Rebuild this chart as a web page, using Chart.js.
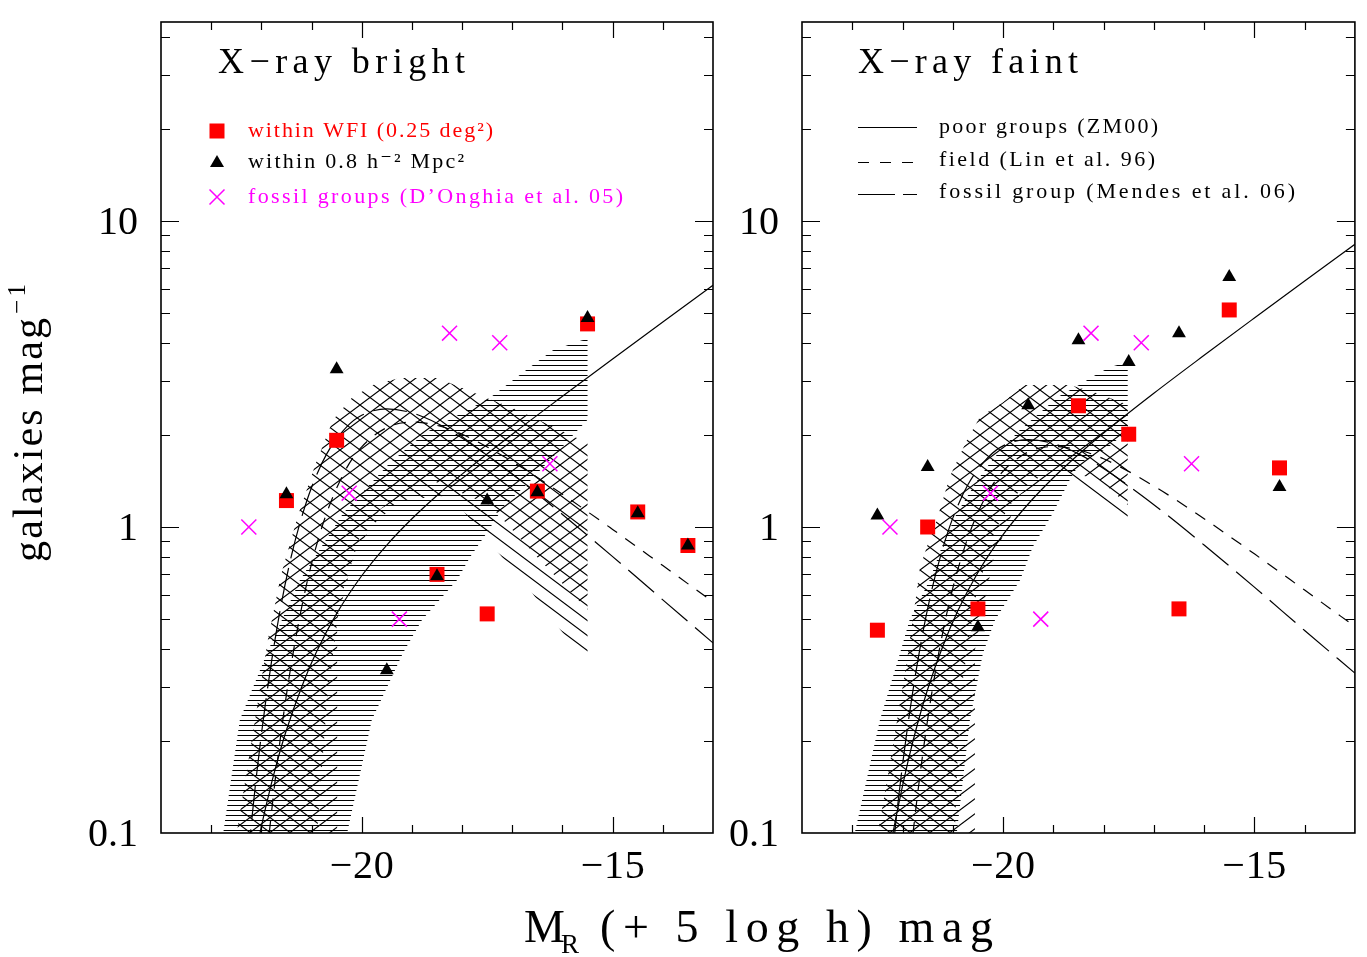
<!DOCTYPE html>
<html><head><meta charset="utf-8">
<script src="https://cdn.jsdelivr.net/npm/chart.js@4.4.1/dist/chart.umd.min.js"></script>
<style>
html,body{margin:0;padding:0;background:#fff;}
#wrap{position:relative;width:1367px;height:957px;background:#fff;}
canvas{position:absolute;left:0;top:0;}
</style></head><body>
<div id="wrap"><canvas id="c1" width="1367" height="957"></canvas><canvas id="c2" width="1367" height="957"></canvas></div>
<script>
// ---------------- axis ranges & ticks ----------------
const X_MIN = -24, X_MAX = -13;
const Y_MIN = 0.1, Y_MAX = 44.7;
const xTickValues = [-20, -15];
const xTickLabels = ['\u221220', '\u221215'];
const yTickValues = [0.1, 1, 10];
const yTickLabels = ['0.1', '1', '10'];

// ---------------- data: X-ray bright ----------------
const brightWfiM  = [-21.5, -20.5, -18.5, -17.5, -16.5, -15.5, -14.5, -13.5];
const brightWfiN  = [1.22, 1.92, 0.70, 0.52, 1.31, 4.61, 1.12, 0.87];
const brightCoreM = [-21.5, -20.5, -19.5, -18.5, -17.5, -16.5, -15.5, -14.5, -13.5];
const brightCoreN = [1.28, 3.28, 0.34, 0.69, 1.22, 1.30, 4.82, 1.11, 0.87];

// ---------------- data: X-ray faint ----------------
const faintWfiM  = [-22.5, -21.5, -20.5, -18.5, -17.5, -16.5, -15.5, -14.5];
const faintWfiN  = [0.46, 1.00, 0.54, 2.49, 2.01, 0.54, 5.12, 1.56];
const faintCoreM = [-22.5, -21.5, -20.5, -19.5, -18.5, -17.5, -16.5, -15.5, -14.5];
const faintCoreN = [1.09, 1.57, 0.47, 2.50, 4.08, 3.46, 4.30, 6.56, 1.35];

// ---------------- fossil groups (D'Onghia et al. 05) ----------------
const fossilM = [-22.25, -20.25, -19.25, -18.25, -17.25, -16.25];
const fossilN = [1.00, 1.29, 0.50, 4.30, 4.00, 1.61];

// ---------------- reference luminosity functions ----------------
const poorM = [-23, -22.5, -22.3, -22.1, -21.9, -21.7, -21.5, -21.2, -20.9, -20.5, -20, -19.5, -19, -18.5, -18, -17, -16, -15, -14, -13];
const brightPoorN = [0.0073, 0.0362, 0.0585, 0.0877, 0.124, 0.1675, 0.217, 0.299, 0.391, 0.521, 0.693, 0.873, 1.064, 1.268, 1.489, 2.009, 2.673, 3.540, 4.677, 6.166];
const faintPoorN  = [0.0099, 0.0493, 0.0796, 0.119, 0.169, 0.228, 0.295, 0.407, 0.532, 0.710, 0.944, 1.189, 1.449, 1.726, 2.028, 2.735, 3.639, 4.819, 6.368, 8.395];
const refM = [-22.5, -22.2, -22, -21.8, -21.6, -21.4, -21.2, -21, -20.7, -20.3, -20, -19.5, -19, -18.5, -18, -17, -16, -15, -14, -13];
const brightFieldN = [0.0037, 0.0217, 0.0546, 0.116, 0.217, 0.360, 0.543, 0.759, 1.109, 1.560, 1.828, 2.113, 2.203, 2.148, 2.009, 1.637, 1.279, 0.982, 0.748, 0.569];
const faintFieldN  = [0.0031, 0.0180, 0.0454, 0.0968, 0.180, 0.299, 0.452, 0.631, 0.923, 1.297, 1.521, 1.758, 1.832, 1.786, 1.671, 1.361, 1.064, 0.817, 0.622, 0.473];
const brightFossilFitN = [0.0296, 0.107, 0.210, 0.361, 0.564, 0.807, 1.072, 1.346, 1.730, 2.123, 2.317, 2.432, 2.360, 2.183, 1.954, 1.489, 1.099, 0.800, 0.578, 0.418];
const faintFossilFitN  = [0.0235, 0.0851, 0.167, 0.287, 0.448, 0.641, 0.851, 1.069, 1.374, 1.687, 1.841, 1.932, 1.875, 1.734, 1.552, 1.183, 0.873, 0.636, 0.459, 0.333];

// ---------------- hatched confidence regions (edges) ----------------
// X-ray bright: horizontal-hatched band
const brightHorizUpM = [-23.2, -22.76, -22.43, -21.89, -21.23, -20.37, -19.44, -18.74, -17.45, -16.65, -16.19, -15.61, -15.5];
const brightHorizUpN = [0.032, 0.100, 0.234, 0.387, 0.671, 1.11, 1.62, 2.03, 2.64, 3.33, 3.78, 4.08, 4.10];
const brightHorizLoM = [-15.5, -15.75, -16.11, -16.45, -16.69, -17.15, -17.51, -17.84, -18.10, -18.80, -19.18, -19.80, -20.29, -20.96];
const brightHorizLoN = [2.24, 2.03, 1.75, 1.53, 1.39, 1.18, 0.955, 0.798, 0.671, 0.497, 0.387, 0.234, 0.100, 0.032];
// X-ray bright: diagonal-hatched bands
const brightDiagUpM = [-22.98, -22.49, -21.87, -21.61, -21.27, -20.93, -20.57, -20.20, -19.78, -19.24, -18.50, -17.98, -17.51, -16.99, -16.25, -15.5];
const brightDiagUpN = [0.032, 0.100, 0.428, 0.697, 1.09, 1.59, 2.24, 2.64, 2.91, 3.07, 3.07, 2.84, 2.64, 2.45, 2.15, 1.88];
const brightBackLoM = [-15.5, -16.15, -16.65, -17.29, -18.24, -19.24, -20.04, -20.43, -20.69, -20.89, -21.12];
const brightBackLoN = [0.360, 0.485, 0.622, 0.828, 1.27, 1.22, 0.927, 0.577, 0.272, 0.100, 0.032];
const brightFwdLoM = [-15.5, -16.45, -17.45, -18.64, -19.64, -20.18, -20.49, -20.49];
const brightFwdLoN = [0.536, 0.780, 1.18, 1.43, 1.14, 0.780, 0.497, 0.032];

// X-ray faint: horizontal-hatched band
const faintHorizUpM = [-23.63, -22.95, -22.45, -22.05, -21.86, -21.46, -21.22, -20.92, -20.50, -20.26, -20.00, -19.67, -19.27, -18.91, -18.41, -18.23, -17.88, -17.52];
const faintHorizUpN = [0.032, 0.100, 0.234, 0.387, 0.497, 0.671, 0.861, 1.11, 1.43, 1.62, 1.82, 2.07, 2.36, 2.66, 2.96, 3.09, 3.33, 3.46];
const faintHorizLoM = [-17.52, -17.91, -18.47, -18.67, -19.01, -19.41, -19.66, -20.16, -20.40, -20.66, -20.92, -21.27];
const faintHorizLoN = [2.07, 1.82, 1.62, 1.43, 1.11, 0.861, 0.671, 0.497, 0.387, 0.234, 0.100, 0.032];
// X-ray faint: diagonal-hatched bands
const faintDiagUpM = [-23.02, -22.49, -22.25, -21.91, -21.65, -21.49, -21.32, -21.06, -20.72, -20.46, -20.02, -19.57, -19.13, -18.67, -18.14, -17.52];
const faintDiagUpN = [0.032, 0.100, 0.169, 0.367, 0.740, 0.887, 1.05, 1.46, 1.92, 2.29, 2.54, 2.91, 2.91, 2.91, 2.74, 2.51];
const faintBackLoM = [-17.52, -18.47, -19.07, -19.67, -20.16, -20.56, -20.86, -20.96, -21.05];
const faintBackLoN = [0.993, 1.35, 1.53, 1.32, 0.977, 0.577, 0.272, 0.100, 0.032];
const faintFwdLoM = [-17.52, -18.08, -18.87, -19.67, -20.20, -20.56, -20.56];
const faintFwdLoN = [1.18, 1.43, 1.53, 1.27, 0.780, 0.396, 0.032];

// ---------------- helpers ----------------
const FONT = '"Liberation Serif", "DejaVu Serif", serif';
function pts(ms, ns) { return ms.map((m, i) => ({x: m, y: ns[i]})); }
function poly(uM, uN, lM, lN) { return pts(uM.concat(lM), uN.concat(lN)); }

function makePattern(kind) {
  const c = document.createElement('canvas');
  if (kind === 'h') { c.width = 10; c.height = 5; } else { c.width = 20; c.height = 15; }
  const g = c.getContext('2d');
  g.strokeStyle = '#000';
  g.lineWidth = kind === 'h' ? 1 : 1.15;
  g.beginPath();
  if (kind === 'h') { g.moveTo(0, 0.5); g.lineTo(10, 0.5); }
  else {
    for (let k = -3; k <= 3; k++) {
      const off = 15 * k;
      if (kind === 'b') { g.moveTo(-20, -15 + off); g.lineTo(40, 30 + off); }
      else { g.moveTo(-20, 30 + off); g.lineTo(40, -15 + off); }
    }
  }
  g.stroke();
  return g.createPattern(c, 'repeat');
}
const patH = makePattern('h'), patB = makePattern('b'), patF = makePattern('f');

function bandDS(data, pat, order) {
  return {data, fill: 'shape', backgroundColor: pat, borderColor: 'rgba(0,0,0,0)', borderWidth: 0,
          pointRadius: 0, tension: 0, order};
}
function curveDS(data, dash, order) {
  return {data, fill: false, borderColor: '#000', borderWidth: 1.2, borderDash: dash, pointRadius: 0,
          cubicInterpolationMode: 'monotone', order};
}
function markDS(data, style, color, radius, order, isCross) {
  return {data, showLine: false, pointStyle: style, pointRadius: radius,
          pointBackgroundColor: isCross ? 'rgba(0,0,0,0)' : color,
          pointBorderColor: color, pointBorderWidth: isCross ? 1.5 : 0, order};
}

function spacedText(ctx, str, x, y, width, align) {
  ctx.save();
  ctx.letterSpacing = '0px';
  const chars = [...str];
  const natural = ctx.measureText(str).width;
  const ls = (width != null && chars.length > 1) ? (width - natural) / (chars.length - 1) : 0;
  const total = natural + ls * (chars.length - 1);
  let sx = x;
  if (align === 'center') sx = x - total / 2;
  else if (align === 'right') sx = x - total;
  ctx.textAlign = 'left';
  if ('letterSpacing' in ctx) { ctx.letterSpacing = ls + 'px'; ctx.fillText(str, sx, y); }
  else { let cx = sx; for (const ch of chars) { ctx.fillText(ch, cx, y); cx += ctx.measureText(ch).width + ls; } }
  ctx.restore();
}

// ---------------- per-panel decoration config ----------------
const panelCfg = {
  c1: {
    title: 'X\u2212ray bright', titleX: 218, titleW: 247, yLabelRight: 138,
    legend: [
      {kind: 'square', color: '#ff0000', text: 'within WFI (0.25 deg\u00b2)', y: 131, base: 137, w: 245},
      {kind: 'tri', color: '#000000', text: 'within 0.8 h\u207b\u00b2 Mpc\u00b2', y: 163, base: 168, w: 216},
      {kind: 'cross', color: '#ff00ff', text: 'fossil groups (D\u2019Onghia et al. 05)', y: 197, base: 203, w: 375}
    ],
    globals: true
  },
  c2: {
    title: 'X\u2212ray faint', titleX: 858, titleW: 220, yLabelRight: 779,
    legend: [
      {kind: 'line', dash: [], text: 'poor groups (ZM00)', y: 127, base: 133, w: 219},
      {kind: 'line', dash: [11, 11], text: 'field (Lin et al. 96)', y: 162, base: 166, w: 216},
      {kind: 'line', dash: [37, 8], text: 'fossil group (Mendes et al. 06)', y: 194, base: 198, w: 356}
    ],
    globals: false
  }
};

const deco = {
  id: 'deco',
  afterDatasetsDraw(chart) {
    const cfg = panelCfg[chart.canvas.id];
    const {ctx, chartArea: a} = chart;
    const xs = chart.scales.x, ys = chart.scales.y;
    ctx.save();
    // frame
    ctx.strokeStyle = '#000';
    ctx.lineWidth = 1.6;
    ctx.strokeRect(a.left, a.top, a.right - a.left, a.bottom - a.top);
    // inward ticks
    ctx.lineWidth = 1.2;
    ctx.beginPath();
    for (let m = Math.ceil(X_MIN) + 1; m < X_MAX; m++) {
      const px = Math.round(xs.getPixelForValue(m)) + 0.5;
      const L = (m % 5 === 0) ? 16 : 8;
      ctx.moveTo(px, a.bottom); ctx.lineTo(px, a.bottom - L);
      ctx.moveTo(px, a.top); ctx.lineTo(px, a.top + L);
    }
    for (let e = -1; e <= 1; e++) {
      for (let k = 1; k <= 9; k++) {
        const v = k * Math.pow(10, e);
        if (v <= Y_MIN * 1.0001 || v >= Y_MAX) continue;
        const py = Math.round(ys.getPixelForValue(v)) + 0.5;
        const L = k === 1 ? 18 : 9;
        ctx.moveTo(a.left, py); ctx.lineTo(a.left + L, py);
        ctx.moveTo(a.right, py); ctx.lineTo(a.right - L, py);
      }
    }
    ctx.stroke();
    // tick labels
    ctx.fillStyle = '#000';
    ctx.font = '40px ' + FONT;
    yTickValues.forEach((v, i) => {
      spacedText(ctx, yTickLabels[i], cfg.yLabelRight, ys.getPixelForValue(v) + 13, null, 'right');
    });
    xTickValues.forEach((v, i) => {
      spacedText(ctx, xTickLabels[i], xs.getPixelForValue(v), 878, 64, 'center');
    });
    // panel title
    ctx.font = '36px ' + FONT;
    spacedText(ctx, cfg.title, cfg.titleX, 73, cfg.titleW, 'left');
    // legend
    cfg.legend.forEach(r => {
      if (r.kind === 'square') {
        ctx.fillStyle = r.color; ctx.fillRect(217 - 7.5, r.y - 7.5, 15, 15);
      } else if (r.kind === 'tri') {
        ctx.fillStyle = r.color; ctx.beginPath();
        ctx.moveTo(217, r.y - 8); ctx.lineTo(224, r.y + 4); ctx.lineTo(210, r.y + 4); ctx.closePath(); ctx.fill();
      } else if (r.kind === 'cross') {
        ctx.strokeStyle = r.color; ctx.lineWidth = 1.5; ctx.beginPath();
        ctx.moveTo(209.5, r.y - 7.5); ctx.lineTo(224.5, r.y + 7.5);
        ctx.moveTo(224.5, r.y - 7.5); ctx.lineTo(209.5, r.y + 7.5); ctx.stroke();
      } else if (r.kind === 'line') {
        ctx.strokeStyle = '#000'; ctx.lineWidth = 1.2; ctx.setLineDash(r.dash); ctx.beginPath();
        ctx.moveTo(858, r.y + 0.5); ctx.lineTo(917, r.y + 0.5); ctx.stroke(); ctx.setLineDash([]);
      }
      ctx.fillStyle = r.color || '#000';
      ctx.font = '22px ' + FONT;
      spacedText(ctx, r.text, r.kind === 'line' ? 939 : 248, r.base, r.w, 'left');
    });
    // shared axis titles
    if (cfg.globals) {
      ctx.fillStyle = '#000';
      ctx.font = '46px ' + FONT;
      spacedText(ctx, 'M', 524, 942, null, 'left');
      ctx.font = '27px ' + FONT;
      spacedText(ctx, 'R', 561, 953, null, 'left');
      ctx.font = '46px ' + FONT;
      spacedText(ctx, '(+ 5 log h) mag', 600, 942, 393, 'left');
      ctx.save();
      ctx.translate(42, 562);
      ctx.rotate(-Math.PI / 2);
      ctx.font = '42px ' + FONT;
      spacedText(ctx, 'galaxies mag', 0, 0, 244, 'left');
      ctx.font = '25px ' + FONT;
      spacedText(ctx, '\u22121', 248, -17, 30, 'left');
      ctx.restore();
    }
    ctx.restore();
  }
};

function makeChart(id, d, padding) {
  return new Chart(document.getElementById(id), {
    type: 'line',
    data: {datasets: [
      bandDS(poly(d.hUpM, d.hUpN, d.hLoM, d.hLoN), patH, 20),
      bandDS(poly(d.dUpM, d.dUpN, d.bLoM, d.bLoN), patB, 19),
      bandDS(poly(d.dUpM, d.dUpN, d.fLoM, d.fLoN), patF, 18),
      curveDS(pts(poorM, d.poorN), [], 12),
      curveDS(pts(refM, d.fieldN), [12, 10], 11),
      curveDS(pts(refM, d.fossilFitN), [34, 10], 10),
      markDS(pts(d.wfiM, d.wfiN), 'rect', '#ff0000', 10.6, 5, false),
      markDS(pts(d.coreM, d.coreN), 'triangle', '#000000', 8, 4, false),
      markDS(pts(fossilM, fossilN), 'crossRot', '#ff00ff', 10.6, 3, true)
    ]},
    options: {
      responsive: false, animation: false, devicePixelRatio: 1,
      layout: {padding},
      scales: {
        x: {type: 'linear', min: X_MIN, max: X_MAX, display: false},
        y: {type: 'logarithmic', min: Y_MIN, max: Y_MAX, display: false}
      },
      plugins: {legend: {display: false}, tooltip: {enabled: false}}
    },
    plugins: [deco]
  });
}

makeChart('c1', {
  hUpM: brightHorizUpM, hUpN: brightHorizUpN, hLoM: brightHorizLoM, hLoN: brightHorizLoN,
  dUpM: brightDiagUpM, dUpN: brightDiagUpN, bLoM: brightBackLoM, bLoN: brightBackLoN, fLoM: brightFwdLoM, fLoN: brightFwdLoN,
  poorN: brightPoorN, fieldN: brightFieldN, fossilFitN: brightFossilFitN,
  wfiM: brightWfiM, wfiN: brightWfiN, coreM: brightCoreM, coreN: brightCoreN
}, {left: 161, right: 1367 - 713, top: 22, bottom: 957 - 833});

makeChart('c2', {
  hUpM: faintHorizUpM, hUpN: faintHorizUpN, hLoM: faintHorizLoM, hLoN: faintHorizLoN,
  dUpM: faintDiagUpM, dUpN: faintDiagUpN, bLoM: faintBackLoM, bLoN: faintBackLoN, fLoM: faintFwdLoM, fLoN: faintFwdLoN,
  poorN: faintPoorN, fieldN: faintFieldN, fossilFitN: faintFossilFitN,
  wfiM: faintWfiM, wfiN: faintWfiN, coreM: faintCoreM, coreN: faintCoreN
}, {left: 802, right: 1367 - 1355, top: 22, bottom: 957 - 833});
</script>
</body></html>
